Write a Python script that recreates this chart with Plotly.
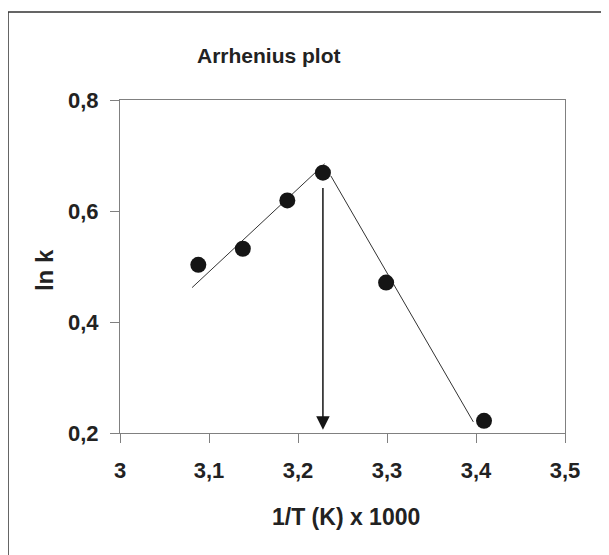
import plotly.graph_objects as go

# Data points
x_vals = [3.088, 3.138, 3.188, 3.228, 3.299, 3.409]
y_vals = [0.503, 0.532, 0.619, 0.669, 0.471, 0.222]

# Fitted line segments
line1_x = [3.081, 3.230]
line1_y = [0.462, 0.685]
line2_x = [3.237, 3.397]
line2_y = [0.663, 0.220]

# Arrow (transition point)
arrow_x = 3.228
arrow_y_start = 0.644
arrow_y_end = 0.206

x_ticks = [3.0, 3.1, 3.2, 3.3, 3.4, 3.5]
x_ticklabels = ["3", "3,1", "3,2", "3,3", "3,4", "3,5"]
y_ticks = [0.2, 0.4, 0.6, 0.8]
y_ticklabels = ["0,2", "0,4", "0,6", "0,8"]

FONT = "Liberation Sans, Arial, sans-serif"
TXT = "#222222"

fig = go.Figure()
fig.add_trace(go.Scatter(x=line1_x, y=line1_y, mode="lines",
                         line=dict(color="#333333", width=1), showlegend=False))
fig.add_trace(go.Scatter(x=line2_x, y=line2_y, mode="lines",
                         line=dict(color="#333333", width=1), showlegend=False))
fig.add_trace(go.Scatter(x=x_vals, y=y_vals, mode="markers",
                         marker=dict(color="#151515", size=16), showlegend=False))

fig.add_annotation(x=arrow_x, y=arrow_y_end, ax=arrow_x, ay=arrow_y_start,
                   xref="x", yref="y", axref="x", ayref="y", text="",
                   showarrow=True, arrowhead=2, arrowsize=1.8, arrowwidth=1.5,
                   arrowcolor="#151515", standoff=0, startstandoff=0)

# Title and axis titles as annotations
fig.add_annotation(text="<b>Arrhenius plot</b>", xref="paper", yref="paper",
                   x=0.335, y=1.135, xanchor="center", yanchor="middle", showarrow=False,
                   font=dict(family=FONT, size=21, color=TXT))
fig.add_annotation(text="<b>1/T (K) x 1000</b>", xref="paper", yref="paper",
                   x=0.507, y=-0.252, xanchor="center", yanchor="middle", showarrow=False,
                   font=dict(family=FONT, size=23, color=TXT))
fig.add_annotation(text="<b>ln k</b>", xref="paper", yref="paper",
                   x=-0.171, y=0.489, xanchor="center", yanchor="middle",
                   showarrow=False, textangle=-90,
                   font=dict(family=FONT, size=24, color=TXT))

# Outer frame (cropped on right and bottom)
fig.add_shape(type="rect", xref="paper", yref="paper",
              x0=-112 / 445, x1=1.15, y0=-0.45, y1=1.264,
              line=dict(color="#333333", width=1.5), layer="below")

axis_common = dict(showgrid=False, zeroline=False, showline=True, mirror=True,
                   linecolor="#808080", linewidth=1, ticks="outside", ticklen=9,
                   tickcolor="#808080", tickwidth=1,
                   tickfont=dict(family=FONT, size=22, color=TXT))

fig.update_xaxes(range=[3.0, 3.5], tickvals=x_ticks,
                 ticktext=[f"<b>{t}</b>" for t in x_ticklabels],
                 ticklabelstandoff=9, **axis_common)
fig.update_yaxes(range=[0.2, 0.8], tickvals=y_ticks,
                 ticktext=[f"<b>{t}</b>" for t in y_ticklabels],
                 ticklabelstandoff=7, **axis_common)

fig.update_layout(width=609, height=555,
                  margin=dict(l=112, r=52, t=92, b=130, autoexpand=False),
                  plot_bgcolor="white", paper_bgcolor="white")

fig.write_html("out.html")
